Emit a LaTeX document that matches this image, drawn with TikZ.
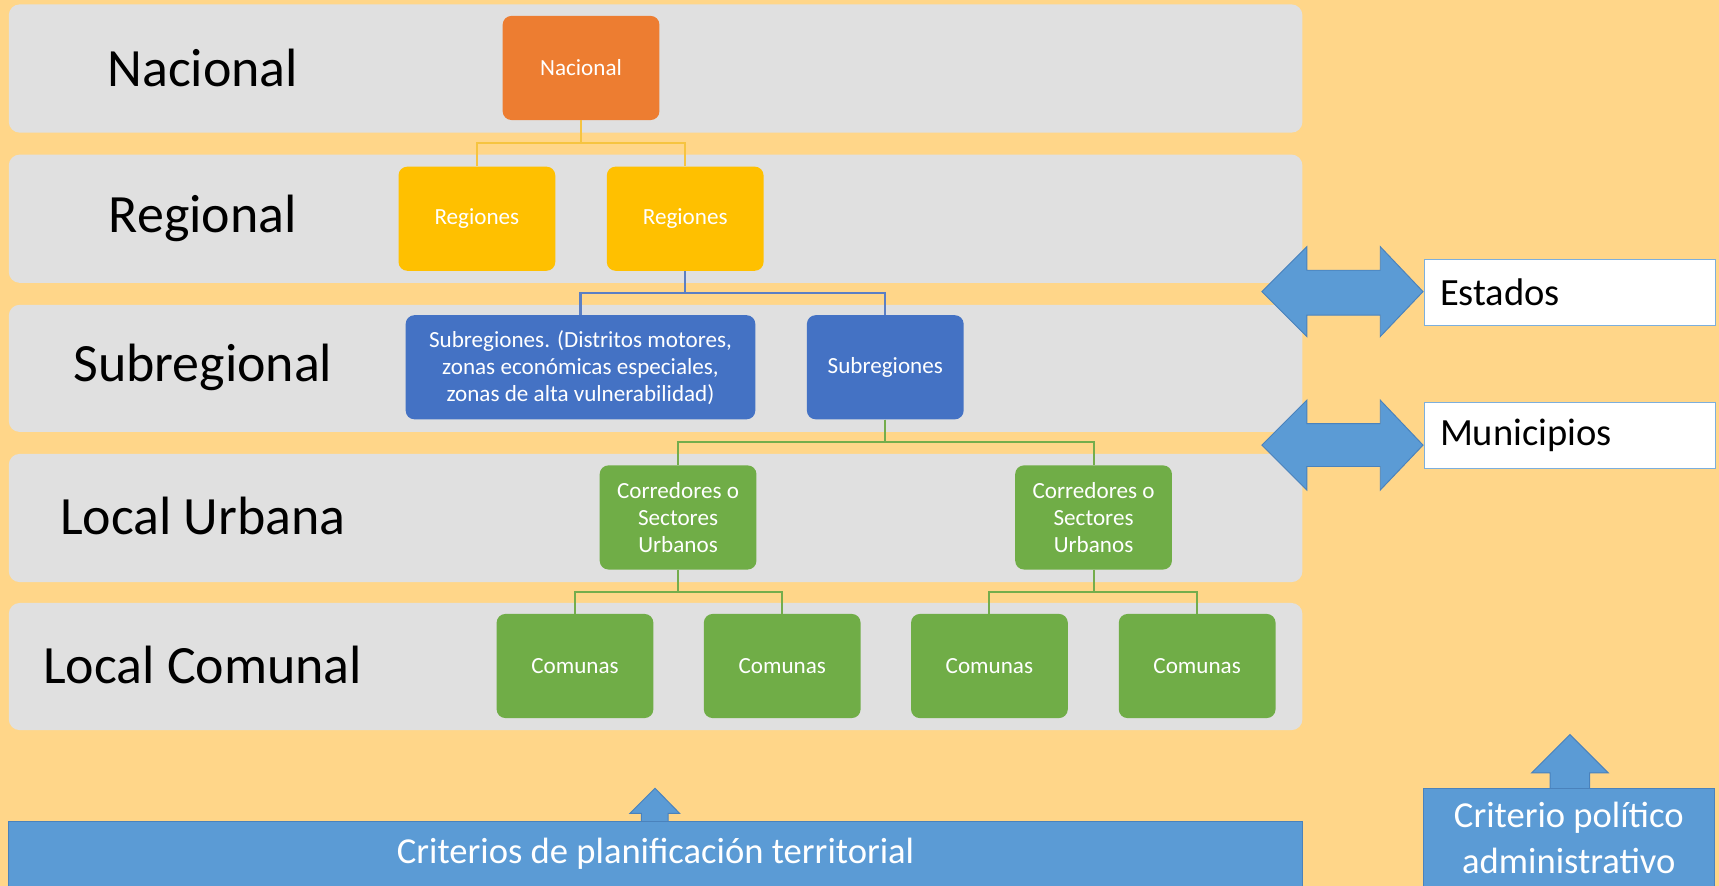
\documentclass[tikz,border=0pt]{standalone}
\usepackage{fontspec}
\setmainfont{Carlito}
\usetikzlibrary{calc}
\definecolor{bg}{HTML}{FFD689}
\definecolor{band}{HTML}{E0E0E0}
\definecolor{orangebox}{HTML}{ED7D31}
\definecolor{yellowbox}{HTML}{FFC000}
\definecolor{bluebox}{HTML}{4472C4}
\definecolor{greenbox}{HTML}{70AD47}
\definecolor{arrowblue}{HTML}{5B9BD5}
\definecolor{arrowedge}{HTML}{4A82BC}
\definecolor{lineyellow}{HTML}{F6C440}
\definecolor{lineblue}{HTML}{5B7FC4}
\definecolor{linegreen}{HTML}{74AD4C}
\begin{document}
\begin{tikzpicture}[x=0.02cm,y=-0.02cm,
  bandbox/.style={fill=band, rounded corners=0.2cm},
  lvl/.style={font=\fontsize{28}{34}\selectfont, text=black, inner sep=0pt},
  orgbox/.style={rounded corners=0.16cm, minimum width=2.86cm, minimum height=1.9cm,
     inner sep=0pt, text=white, align=center, font=\fontsize{12}{14}\selectfont},
  nacbox/.style={orgbox, fill=orangebox},
  regbox/.style={orgbox, fill=yellowbox},
  subbox/.style={orgbox, fill=bluebox},
  grnbox/.style={orgbox, fill=greenbox},
  conn/.style={line width=1.1pt},
  sidebox/.style={draw=arrowblue!80, line width=0.6pt, fill=white, anchor=west,
     minimum height=1.2cm, text width=4.74cm, inner xsep=0.28cm, align=left,
     font=\fontsize{20}{24}\selectfont, text=black},
  bigarrow/.style={fill=arrowblue, draw=arrowedge, line width=0.5pt},
  barbox/.style={fill=arrowblue, draw=arrowedge, line width=0.5pt, text=white,
     inner sep=0pt, align=center, font=\fontsize{19}{24}\selectfont}
]
\useasboundingbox (0,0) rectangle (1568,808);
\fill[bg] (0,0) rectangle (1568,808);

% bands
\fill[bandbox] (8,4) rectangle (1188,121);
\fill[bandbox] (8,141) rectangle (1188,258);
\fill[bandbox] (8,278) rectangle (1188,394);
\fill[bandbox] (8,414) rectangle (1188,531);
\fill[bandbox] (8,550) rectangle (1188,666);

% level labels
\node[lvl] (lnac) at (185,62) {Nacional};
\node[lvl] (lreg) at (185,199) {Regional};
\node[lvl] (lsub) at (185,335) {Subregional};
\node[lvl] (lurb) at (185,471) {Local Urbana};
\node[lvl] (lcom) at (185,607) {Local Comunal};

% org boxes
\node[nacbox] (nac) at (530,62) {Nacional};
\node[regbox] (reg1) at (435,199.5) {Regiones};
\node[regbox] (reg2) at (625,199.5) {Regiones};
\node[subbox, minimum width=6.38cm] (sub1) at (529.5,335)
  {Subregiones. (Distritos motores,\\zonas económicas especiales,\\zonas de alta vulnerabilidad)};
\node[subbox] (sub2) at (807.5,335) {Subregiones};
\node[grnbox] (cor1) at (618.5,472) {Corredores o\\Sectores\\Urbanos};
\node[grnbox] (cor2) at (997.5,472) {Corredores o\\Sectores\\Urbanos};
\node[grnbox] (com1) at (524.5,607.5) {Comunas};
\node[grnbox] (com2) at (713.5,607.5) {Comunas};
\node[grnbox] (com3) at (902.5,607.5) {Comunas};
\node[grnbox] (com4) at (1092,607.5) {Comunas};

% connectors
\foreach \p/\c/\col in {nac/reg1/lineyellow, nac/reg2/lineyellow,
    reg2/sub1/lineblue, reg2/sub2/lineblue,
    sub2/cor1/linegreen, sub2/cor2/linegreen,
    cor1/com1/linegreen, cor1/com2/linegreen,
    cor2/com3/linegreen, cor2/com4/linegreen}
  \draw[conn, draw=\col] (\p.south) |- ($(\p.south)!0.5!(\c.north)$) -| (\c.north);

% double arrows
\draw[bigarrow] (1151,266) -- (1192,225) -- (1192,246.5) -- (1259,246.5) -- (1259,225)
  -- (1298,266) -- (1259,307) -- (1259,287.5) -- (1192,287.5) -- (1192,307) -- cycle;
\draw[bigarrow] (1151,406) -- (1192,365) -- (1192,386.5) -- (1259,386.5) -- (1259,365)
  -- (1298,406) -- (1259,447) -- (1259,425.5) -- (1192,425.5) -- (1192,447) -- cycle;

\node[sidebox] (est) at (1299,267) {Estados};
\node[sidebox] (mun) at (1299,397) {Municipios};

% up arrows
\draw[bigarrow] (585,752) -- (585,742) -- (574.5,742) -- (597.5,719) -- (620,742)
  -- (609.5,742) -- (609.5,752) -- cycle;
\draw[bigarrow] (1414,722) -- (1414,705) -- (1397,705) -- (1432,670) -- (1467,705)
  -- (1450,705) -- (1450,722) -- cycle;

% bottom bars
\node[barbox, minimum width=23.6cm, minimum height=1.2cm] (crit) at (598,779)
  {Criterios de planificación territorial};
\node[barbox, minimum width=5.32cm, minimum height=1.8cm] (pol) at (1431,764)
  {Criterio político\\administrativo};
\end{tikzpicture}
\end{document}
